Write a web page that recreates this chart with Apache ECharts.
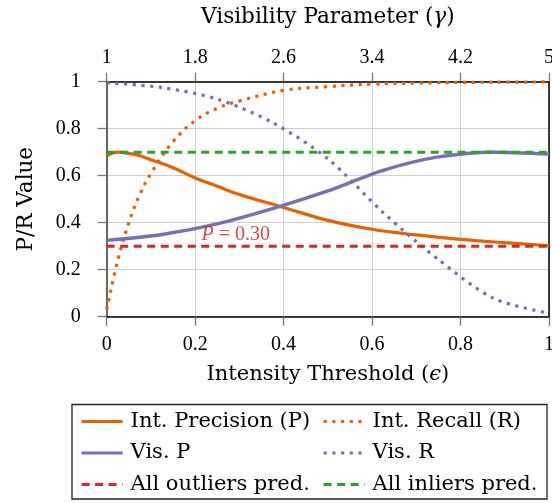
<!DOCTYPE html>
<html>
<head>
<meta charset="utf-8">
<script src="https://cdn.jsdelivr.net/npm/echarts@6/dist/echarts.min.js"></script>
<style>
  html, body { margin: 0; padding: 0; background: #fff; }
  #chart { width: 552px; height: 503px; }
</style>
</head>
<body>
<div id="chart"></div>
<script>
// Intensity threshold sweep (bottom axis, epsilon)
const epsValues = [0, 0.025, 0.05, 0.075, 0.1, 0.15, 0.2, 0.25, 0.3, 0.4, 0.5, 0.6, 0.7, 0.8, 0.9, 1];
const intPrecision = [0.685, 0.70, 0.695, 0.685, 0.668, 0.634, 0.59, 0.555, 0.52, 0.465, 0.41, 0.372, 0.348, 0.329, 0.315, 0.302];
const intRecall = [0.03, 0.24, 0.40, 0.52, 0.61, 0.745, 0.834, 0.887, 0.918, 0.963, 0.979, 0.99, 0.994, 0.997, 0.998, 0.999];

// Visibility parameter sweep (top axis, gamma)
const gammaValues = [1, 1.5, 2, 2.5, 3, 3.5, 4, 4.5, 5];
const visPrecision = [0.325, 0.35, 0.395, 0.46, 0.535, 0.623, 0.68, 0.70, 0.692];
const visRecall = [0.995, 0.975, 0.926, 0.826, 0.672, 0.443, 0.243, 0.078, 0.015];

// Trivial baselines
const outlierRate = 0.30;   // precision when everything is flagged as outlier
const inlierRate = 0.70;    // precision when everything is flagged as inlier

// Tick labels
const epsTicks = [0, 0.2, 0.4, 0.6, 0.8, 1];
const gammaTicks = [1, 1.8, 2.6, 3.4, 4.2, 5];
const valueTicks = [0, 0.2, 0.4, 0.6, 0.8, 1];

const ORANGE = '#e66100';
const PURPLE = '#7570b3';
const RED = '#d62728';
const GREEN = '#2ca02c';
const NUM_FONT = 'Liberation Serif';
const TEXT_FONT = 'DejaVu Serif';
const DOT = [3.2, 5.5];
const DASH = [8, 5.5];

const pairs = (xs, ys) => xs.map((x, i) => [x, ys[i]]);
const fmt = v => String(+(+v).toFixed(1));

const chart = echarts.init(document.getElementById('chart'), null, { renderer: 'canvas' });

const tickText = { fontFamily: NUM_FONT, fontSize: 20, color: '#000' };
const nameText = size => ({
  fontFamily: TEXT_FONT, fontSize: size, color: '#000',
  rich: { m: { fontFamily: TEXT_FONT, fontStyle: 'italic', fontSize: size, color: '#000' } }
});
const tickLine = { show: true, length: 9, lineStyle: { color: '#777', width: 1.3 } };
const gridLine = { show: true, lineStyle: { color: '#cfcfcf', width: 1.2 } };
const legendBase = {
  orient: 'vertical', top: 411, height: 92, padding: 0,
  itemWidth: 41, itemHeight: 14, itemGap: 10.5,
  itemStyle: { opacity: 0 },
  lineStyle: { width: 3.2 },
  textStyle: { fontFamily: TEXT_FONT, fontSize: 21, color: '#000', lineHeight: 20, padding: [0, 0, 0, 3] }
};

chart.setOption({
  animation: false,
  backgroundColor: '#fff',
  grid: { left: 106.7, right: 3, top: 81.7, bottom: 186.3, containLabel: false, outerBoundsMode: 'none' },
  xAxis: [
    {
      type: 'value', position: 'bottom',
      min: epsTicks[0], max: epsTicks[epsTicks.length - 1], interval: 0.2,
      name: 'Intensity Threshold ({m|ϵ})', nameLocation: 'middle', nameGap: 47,
      nameTextStyle: nameText(21),
      axisLine: { show: true, onZero: false, lineStyle: { color: '#000', width: 1.5 } },
      axisTick: tickLine,
      axisLabel: Object.assign({}, tickText, { margin: 18, formatter: fmt }),
      splitLine: gridLine
    },
    {
      type: 'value', position: 'top',
      min: gammaTicks[0], max: gammaTicks[gammaTicks.length - 1], interval: 0.8,
      name: 'Visibility Parameter ({m|γ})', nameLocation: 'middle', nameGap: 53,
      nameTextStyle: nameText(21.6),
      axisLine: { show: true, onZero: false, lineStyle: { color: '#000', width: 1.5 } },
      axisTick: tickLine,
      axisLabel: Object.assign({}, tickText, { margin: 14, formatter: fmt }),
      splitLine: { show: false }
    }
  ],
  yAxis: [
    {
      type: 'value', position: 'left',
      min: valueTicks[0], max: valueTicks[valueTicks.length - 1], interval: 0.2,
      name: 'P/R Value', nameLocation: 'middle', nameGap: 69, nameRotate: 90,
      nameTextStyle: nameText(21.5),
      axisLine: { show: true, onZero: false, lineStyle: { color: '#666', width: 2 } },
      axisTick: tickLine,
      axisLabel: Object.assign({}, tickText, { margin: 26, formatter: fmt }),
      splitLine: gridLine
    },
    {
      type: 'value', position: 'right',
      min: 0, max: 1, interval: 0.2,
      axisLine: { show: true, onZero: false, lineStyle: { color: '#000', width: 1.5 } },
      axisTick: { show: false }, axisLabel: { show: false }, splitLine: { show: false }
    }
  ],
  legend: [
    Object.assign({}, legendBase, { left: 80, data: ['Int. Precision (P)', 'Vis. P', 'All outliers pred.'] }),
    Object.assign({}, legendBase, { left: 322, data: ['Int. Recall (R)', 'Vis. R', 'All inliers pred.'] })
  ],
  graphic: [
    { type: 'rect', shape: { x: 72, y: 404.5, width: 475, height: 94.5 },
      style: { fill: 'none', stroke: '#222', lineWidth: 1.3 }, z: -1 }
  ],
  series: [
    {
      name: 'Int. Precision (P)', type: 'line', xAxisIndex: 0, yAxisIndex: 0,
      data: pairs(epsValues, intPrecision), smooth: 0.4, symbol: 'none',
      lineStyle: { color: ORANGE, width: 3.2 }, itemStyle: { color: ORANGE }
    },
    {
      name: 'Int. Recall (R)', type: 'line', xAxisIndex: 0, yAxisIndex: 0,
      data: pairs(epsValues, intRecall), smooth: 0.4, symbol: 'none',
      lineStyle: { color: ORANGE, width: 3.2, type: DOT }, itemStyle: { color: ORANGE }
    },
    {
      name: 'Vis. P', type: 'line', xAxisIndex: 1, yAxisIndex: 0,
      data: pairs(gammaValues, visPrecision), smooth: 0.3, symbol: 'none',
      lineStyle: { color: PURPLE, width: 3.4 }, itemStyle: { color: PURPLE }
    },
    {
      name: 'Vis. R', type: 'line', xAxisIndex: 1, yAxisIndex: 0,
      data: pairs(gammaValues, visRecall), smooth: 0.3, symbol: 'none',
      lineStyle: { color: PURPLE, width: 3.2, type: DOT }, itemStyle: { color: PURPLE }
    },
    {
      name: 'All outliers pred.', type: 'line', xAxisIndex: 0, yAxisIndex: 0,
      data: [[0, outlierRate], [1, outlierRate]], symbol: 'none',
      lineStyle: { color: RED, width: 3, type: DASH }, itemStyle: { color: RED },
      markPoint: {
        symbol: 'circle', symbolSize: 0, silent: true,
        data: [{
          coord: [0.292, outlierRate],
          label: {
            show: true, position: 'inside', offset: [0, -11],
            formatter: '{i|P} = ' + outlierRate.toFixed(2),
            fontFamily: NUM_FONT, fontSize: 20, color: 'rgba(214,39,40,0.85)',
            rich: { i: { fontFamily: NUM_FONT, fontStyle: 'italic', fontSize: 20, color: 'rgba(214,39,40,0.85)' } }
          }
        }]
      }
    },
    {
      name: 'All inliers pred.', type: 'line', xAxisIndex: 0, yAxisIndex: 0,
      data: [[0, inlierRate], [1, inlierRate]], symbol: 'none',
      lineStyle: { color: GREEN, width: 3, type: DASH }, itemStyle: { color: GREEN }
    }
  ]
});
</script>
</body>
</html>
